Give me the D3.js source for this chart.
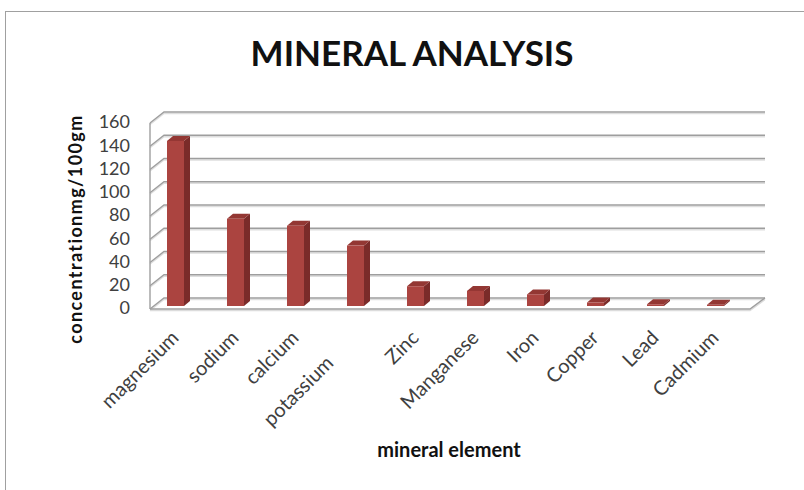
<!DOCTYPE html>
<html>
<head>
<meta charset="utf-8">
<script src="https://cdn.jsdelivr.net/npm/d3@7"></script>
<style>
  body { margin: 0; background: #fff; }
  text { font-family: Lato, "Open Sans", sans-serif; }
</style>
</head>
<body>
<div id="chart"></div>
<script>
// data
const minerals = ['magnesium', 'sodium', 'calcium', 'potassium\u00a0\u00a0\u00a0\u00a0\u00a0\u00a0\u00a0', 'Zinc', 'Manganese', 'Iron', 'Copper', 'Lead', 'Cadmium'];
const concentration = [142, 75, 69, 52, 17, 13, 10, 3, 1.5, 1];
const yTicks = [0, 20, 40, 60, 80, 100, 120, 140, 160];

const width = 804;
const height = 490;

// 3d offsets: back wall depth and bar placement/depth
const depth = { dx: 14, dy: -11 };
const barShift = { dx: 2, dy: -3 };
const barDepth = { dx: 6, dy: -5 };
const colors = { front: '#ab4440', side: '#7a2b29', top: '#933733', grid: '#9e9e9e' };

const svg = d3.select('#chart').append('svg')
  .attr('width', width)
  .attr('height', height);

svg.append('rect')
  .attr('x', 5.5).attr('y', 11.5)
  .attr('width', width + 10).attr('height', height)
  .attr('fill', '#fff').attr('stroke', '#a0a0a0');

const x = d3.scaleBand().domain(minerals).range([150, 750]);
const y = d3.scaleLinear().domain([0, 160]).range([309, 123]);

// left wall and back wall grid
const grid = svg.append('g').attr('fill', 'none');
yTicks.forEach(t => {
  const yf = y(t), yb = y(t) + depth.dy;
  grid.append('path')
    .attr('d', `M150,${yf + 1.5}L${150 + depth.dx},${yb + 1.5}L765,${yb + 1.5}`)
    .attr('stroke', '#dedede').attr('stroke-width', 1.5);
  grid.append('path')
    .attr('d', `M150,${yf}L${150 + depth.dx},${yb}L765,${yb}`)
    .attr('stroke', colors.grid).attr('stroke-width', 1.4);
});
// left wall edge and floor
grid.append('path')
  .attr('d', `M150,${y(0)}L150,${y(160)}`)
  .attr('stroke', colors.grid).attr('stroke-width', 1.4);
grid.append('path')
  .attr('d', `M150,${y(0) + 1.5}L750,${y(0) + 1.5}L765,${y(0) + depth.dy + 1.5}`)
  .attr('stroke', '#dcdcdc').attr('stroke-width', 1.5);
grid.append('path')
  .attr('d', `M150,${y(0)}L750,${y(0)}L${750 + depth.dx + 1},${y(0) + depth.dy}`)
  .attr('stroke', colors.grid).attr('stroke-width', 1.4);

// bars
const bw = 17;
const bars = svg.append('g').selectAll('g')
  .data(minerals.map((m, i) => ({ m, v: concentration[i] })))
  .enter().append('g');

const bx = d => x(d.m) + 15 + barShift.dx;
const by0 = y(0) + barShift.dy;
const byt = d => y(d.v) + barShift.dy;

bars.append('path')
  .attr('fill', colors.side)
  .attr('d', d => `M${bx(d) + bw},${by0}L${bx(d) + bw},${byt(d)}L${bx(d) + bw + barDepth.dx},${byt(d) + barDepth.dy}L${bx(d) + bw + barDepth.dx},${by0 + barDepth.dy}Z`);
bars.append('path')
  .attr('fill', colors.top)
  .attr('d', d => `M${bx(d)},${byt(d)}L${bx(d) + bw},${byt(d)}L${bx(d) + bw + barDepth.dx},${byt(d) + barDepth.dy}L${bx(d) + barDepth.dx},${byt(d) + barDepth.dy}Z`);
bars.append('rect')
  .attr('fill', colors.front)
  .attr('x', bx)
  .attr('y', byt)
  .attr('width', bw)
  .attr('height', d => by0 - byt(d));

// y axis labels
svg.append('g').selectAll('text')
  .data(yTicks)
  .enter().append('text')
  .attr('x', 130)
  .attr('y', d => y(d) - 1)
  .attr('dy', '0.35em')
  .attr('text-anchor', 'end')
  .attr('font-size', 18)
  .attr('fill', '#404040')
  .text(d => d);

// x axis labels
svg.append('g').selectAll('text')
  .data(minerals)
  .enter().append('text')
  .attr('transform', d => `translate(${x(d) + x.bandwidth() / 2},${339}) rotate(-45)`)
  .attr('text-anchor', 'end')
  .attr('font-size', 20)
  .attr('fill', '#404040')
  .style('white-space', 'pre')
  .text(d => d);

// titles
svg.append('text')
  .attr('x', 412).attr('y', 66)
  .attr('text-anchor', 'middle')
  .attr('font-size', 35)
  .attr('font-weight', 'bold')
  .attr('fill', '#111')
  .text('MINERAL ANALYSIS');

svg.append('text')
  .attr('x', 449).attr('y', 457)
  .attr('text-anchor', 'middle')
  .attr('font-size', 20)
  .attr('font-weight', 'bold')
  .attr('fill', '#111')
  .text('mineral element');

svg.append('text')
  .attr('transform', 'translate(82,229) rotate(-90)')
  .attr('text-anchor', 'middle')
  .attr('font-size', 18)
  .attr('letter-spacing', 1.4)
  .attr('font-weight', 'bold')
  .attr('fill', '#111')
  .text('concentrationmg/100gm');
</script>
</body>
</html>
